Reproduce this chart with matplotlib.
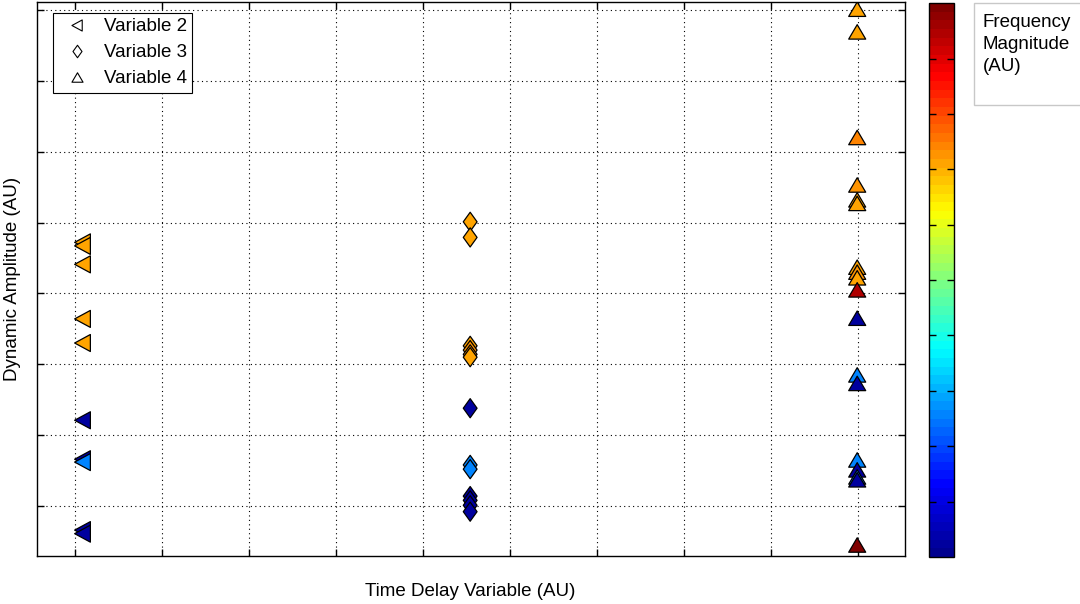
"""Scatter of dynamic amplitude vs time delay, coloured by frequency magnitude."""
import matplotlib
matplotlib.use("Agg")
import matplotlib.pyplot as plt
import numpy as np
from matplotlib.colors import LinearSegmentedColormap, Normalize
from matplotlib.lines import Line2D
from matplotlib.path import Path
from matplotlib.patches import Rectangle

plt.rcParams["font.family"] = ["Liberation Sans", "DejaVu Sans"]

# values (axis units = grid steps)
var2_x = 0.09
var2_y = [3.72, 3.67, 3.41, 2.64, 2.30, 1.21, 0.66, 0.62, -0.34, -0.39]
var2_c = [0.71, 0.71, 0.71, 0.71, 0.71, 0.02, 0.03, 0.25, 0.02, 0.03]

var3_x = 4.54
var3_y = [4.01, 3.79, 2.26, 2.20, 2.14, 2.10, 1.38, 0.58, 0.52, 0.14, 0.08, 0.01, -0.08]
var3_c = [0.71, 0.71, 0.71, 0.72, 0.73, 0.71, 0.02, 0.25, 0.25, 0.02, 0.03, 0.02, 0.03]

var4_x = 8.99
var4_y = [7.01, 6.69, 5.20, 4.53, 4.32, 4.27, 3.37, 3.30, 3.22, 3.05, 2.65,
          1.85, 1.73, 0.65, 0.51, 0.41, 0.37, -0.55]
var4_c = [0.71, 0.71, 0.74, 0.72, 0.71, 0.71, 0.71, 0.72, 0.71, 0.95, 0.02,
          0.25, 0.03, 0.25, 0.02, 0.25, 0.03, 0.99]

x_ticks = np.arange(0, 10)
y_ticks = np.arange(0, 8)
cbar_ticks = np.arange(0.1, 1.0, 0.1)

# MATLAB style jet (green band narrower than matplotlib's), 64 steps
jet_ml = LinearSegmentedColormap("jet_ml", {
    "red":   [(0, 0, 0), (0.375, 0, 0), (0.625, 1, 1), (0.875, 1, 1), (1, 0.5, 0.5)],
    "green": [(0, 0, 0), (0.125, 0, 0), (0.375, 1, 1), (0.625, 1, 1), (0.875, 0, 0), (1, 0, 0)],
    "blue":  [(0, 0.5625, 0.5625), (0.125, 1, 1), (0.375, 1, 1), (0.625, 0, 0), (1, 0, 0)],
}, N=64)
norm = Normalize(0, 1)

# MATLAB-ish marker shapes
tri_left = Path([(-1, 0), (0.85, 1), (0.85, -1), (-1, 0)], closed=True)
tri_up = Path([(0, 0.85), (1, -0.85), (-1, -0.85), (0, 0.85)], closed=True)
diamond = Path([(0, 1), (0.72, 0), (0, -1), (-0.72, 0), (0, 1)], closed=True)

fig = plt.figure(figsize=(10.8, 6.04), dpi=100)
ax = fig.add_axes([0.0343, 0.0795, 0.8037, 0.917])

ax.scatter(np.full(len(var2_y), var2_x), var2_y, c=var2_c, cmap=jet_ml, norm=norm,
           marker=tri_left, s=150, edgecolors="black", linewidths=0.9, zorder=3)
ax.scatter(np.full(len(var3_y), var3_x), var3_y, c=var3_c, cmap=jet_ml, norm=norm,
           marker=diamond, s=190, edgecolors="black", linewidths=0.9, zorder=3)
ax.scatter(np.full(len(var4_y), var4_x), var4_y, c=var4_c, cmap=jet_ml, norm=norm,
           marker=tri_up, s=150, edgecolors="black", linewidths=0.9, zorder=3)

ax.set_xlim(-0.44, 9.54)
ax.set_ylim(-0.705, 7.11)
ax.set_xticks(x_ticks)
ax.set_yticks(y_ticks)
ax.set_xticklabels([])
ax.set_yticklabels([])
ax.tick_params(direction="in", length=5, width=1, top=True, right=True)
ax.grid(True, color="black", linestyle=(0, (1, 3)), linewidth=0.8)
for sp in ax.spines.values():
    sp.set_linewidth(1)

ax.set_xlabel("Time Delay Variable (AU)", fontsize=13.5)
ax.xaxis.set_label_coords(0.499, -0.048)
ax.set_ylabel("Dynamic Amplitude (AU)", fontsize=13.5)
ax.yaxis.set_label_coords(-0.019, 0.5)

handles = [
    Line2D([], [], marker=tri_left, ls="none", mfc="none", mec="black", ms=8, mew=0.8),
    Line2D([], [], marker=diamond, ls="none", mfc="none", mec="black", ms=9, mew=0.8),
    Line2D([], [], marker=tri_up, ls="none", mfc="none", mec="black", ms=8, mew=0.8),
]
leg = ax.legend(handles, ["Variable 2", "Variable 3", "Variable 4"],
                loc="upper left", bbox_to_anchor=(0.0184, 0.981), fontsize=13.5,
                fancybox=False, framealpha=1, edgecolor="black",
                borderpad=0.3, handletextpad=0.4, labelspacing=0.47,
                handlelength=2.0, borderaxespad=0)
leg.get_frame().set_linewidth(0.8)

# colorbar
cax = fig.add_axes([0.8602, 0.0778, 0.0231, 0.917])
sm = matplotlib.cm.ScalarMappable(norm=norm, cmap=jet_ml)
cb = fig.colorbar(sm, cax=cax, ticks=cbar_ticks)
cb.ax.set_yticklabels([])
cb.ax.tick_params(direction="in", length=5, width=1, left=True, right=True)
cb.outline.set_linewidth(1)

# boxed colorbar title
fig.patches.append(Rectangle((974 / 1080, 1 - 105 / 604), 120 / 1080, 102 / 604,
                             transform=fig.transFigure, facecolor="white",
                             edgecolor="#c8c8c8", linewidth=1))
fig.text(983 / 1080, 1 - 14 / 604, "Frequency\nMagnitude\n(AU)", fontsize=13.5,
         va="top", ha="left", linespacing=1.4)

fig.savefig("out.png", dpi=100)
